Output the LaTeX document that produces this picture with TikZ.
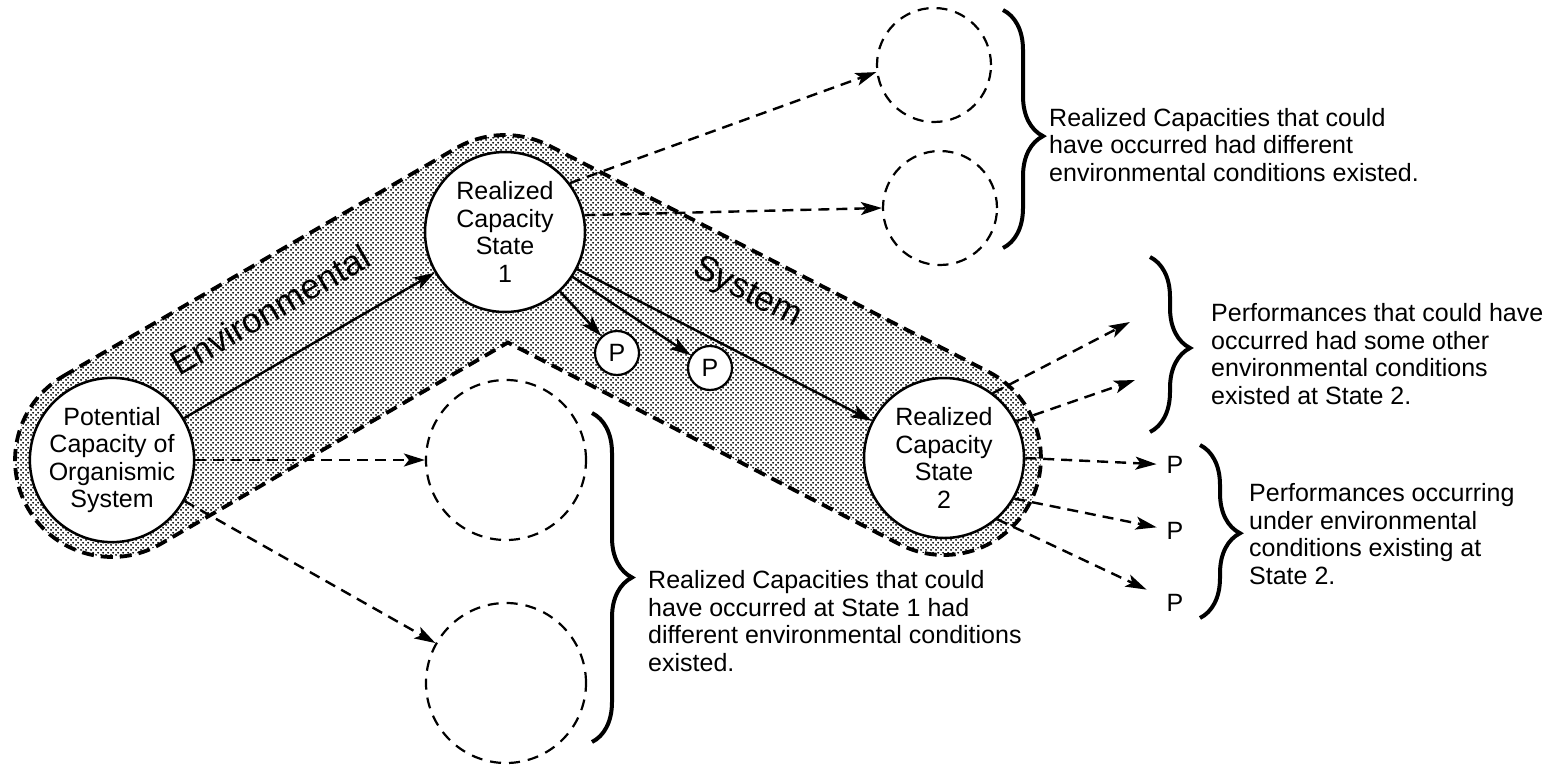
\documentclass[tikz,border=0pt]{standalone}
\usepackage{fontspec}
\setmainfont{Liberation Sans}
\usetikzlibrary{arrows.meta,calc,decorations.pathreplacing,patterns.meta}
\tikzdeclarepattern{name=screen,type=uncolored,
  bounding box={(0pt,0pt) and (5pt,5pt)},tile size={(5pt,5pt)},
  code={\pgfpathcircle{\pgfqpoint{1.25pt}{1.25pt}}{1.2pt}
        \pgfpathcircle{\pgfqpoint{3.75pt}{3.75pt}}{1.2pt}
        \pgfusepath{fill}}}
\begin{document}
\begin{tikzpicture}[x=1pt,y=-1pt,
  txt/.style={font=\fontsize{25}{27.5}\selectfont},
  bigtxt/.style={font=\fontsize{35}{40}\selectfont},
  bignode/.style={circle,draw,line width=2.5pt,fill=white,minimum size=160pt,inner sep=0pt,align=center,txt},
  pnode/.style={circle,draw,line width=2.2pt,fill=white,minimum size=44pt,inner sep=0pt,txt},
  ptext/.style={inner sep=0pt,txt},
  ghost/.style={circle,draw,line width=2.2pt,dash pattern=on 11pt off 8pt,minimum size=#1,inner sep=0pt},
  note/.style={txt,align=left,anchor=west,inner sep=0pt},
  solidarrow/.style={line width=2.4pt,-{Stealth[length=21pt,width=13pt,inset=5pt]}},
  dasharrow/.style={line width=2.4pt,dash pattern=on 11pt off 7pt,-{Stealth[length=21pt,width=13pt,inset=5pt]}},
  bandline/.style={line width=3.8pt,dash pattern=on 12pt off 7pt,pattern=screen},
  bracestyle/.style={line width=4pt,decorate,decoration={brace,amplitude=40pt,aspect=#1}}
]
\useasboundingbox (0,0) rectangle (1563,771);

% band around the path
\coordinate (alo0) at (160.7,543.9);
\coordinate (alo1) at (553.7,315.9);
\coordinate (blo1) at (460.6,318.2);
\coordinate (blo2) at (899.6,544.2);
\coordinate (inner) at (intersection of alo0--alo1 and blo1--blo2);
\path[bandline,draw] (63.3,376.1) -- (456.3,148.1)
  arc[start angle=-120.1,end angle=-62.7,radius=97]
  -- (988.4,371.8)
  arc[start angle=-62.7,end angle=117.3,radius=97]
  -- (inner) -- (alo0)
  arc[start angle=59.9,end angle=239.9,radius=97] -- cycle;

% labels on band
\node[bigtxt,rotate=30] (env) at (270,310) {Environmental};
\node[bigtxt,rotate=-27] (sys) at (747,293) {System};

% main nodes
\node[bignode] (pot) at (112,460) {Potential\\Capacity of\\Organismic\\System};
\node[bignode] (r1) at (505,232) {Realized\\Capacity\\State\\1};
\node[bignode] (r2) at (944,458) {Realized\\Capacity\\State\\2};
\node[pnode] (p1) at (617,353) {P};
\node[pnode] (p2) at (710,368) {P};

% ghost circles
\node[ghost=114pt] (tc1) at (934,65) {};
\node[ghost=114pt] (tc2) at (940,208) {};
\node[ghost=160pt] (lc1) at (506,460) {};
\node[ghost=160pt] (lc2) at (506,683) {};

% right P's
\node[ptext] (q1) at (1175,465) {P};
\node[ptext] (q2) at (1175,531) {P};
\node[ptext] (q3) at (1175,603) {P};

% solid arrows
\draw[solidarrow] (pot) -- (r1);
\draw[solidarrow] (r1) -- (r2);
\draw[solidarrow] (r1) -- (p1);
\draw[solidarrow] (r1) -- (p2);

% dashed arrows
\draw[dasharrow] (pot.east) -- (lc1.west);
\draw[dasharrow] (pot) -- (lc2);
\draw[dasharrow] (r1.37) -- (tc1.187);
\draw[dasharrow] (r1.12) -- (tc2.west);
\coordinate (pa1) at (1130,322);
\coordinate (pa2) at (1135,380);
\draw[dasharrow] (r2.53) -- (pa1);
\draw[dasharrow] (r2.27) -- (pa2);
\draw[dasharrow,shorten >=10pt] (r2.east) -- (q1);
\draw[dasharrow,shorten >=10pt] (r2.-30) -- (q2);
\draw[dasharrow,shorten >=22pt] (r2.-49) -- (q3);

% braces
\draw[bracestyle=0.53] (1003,10) -- (1003,248);
\draw[bracestyle=0.52] (1150,257) -- (1150,432);
\draw[bracestyle=0.51] (1200,445) -- (1200,618);
\draw[bracestyle=0.5] (592,413) -- (592,742);

% notes
\node[note] (t1) at (1049,145) {Realized Capacities that could\\have occurred had different\\environmental conditions existed.};
\node[note] (t2) at (1211,354) {Performances that could have\\occurred had some other\\environmental conditions\\existed at State 2.};
\node[note] (t3) at (1249,534) {Performances occurring\\under environmental\\conditions existing at\\State 2.};
\node[note] (t4) at (648,621) {Realized Capacities that could\\have occurred at State 1 had\\different environmental conditions\\existed.};
\end{tikzpicture}
\end{document}
